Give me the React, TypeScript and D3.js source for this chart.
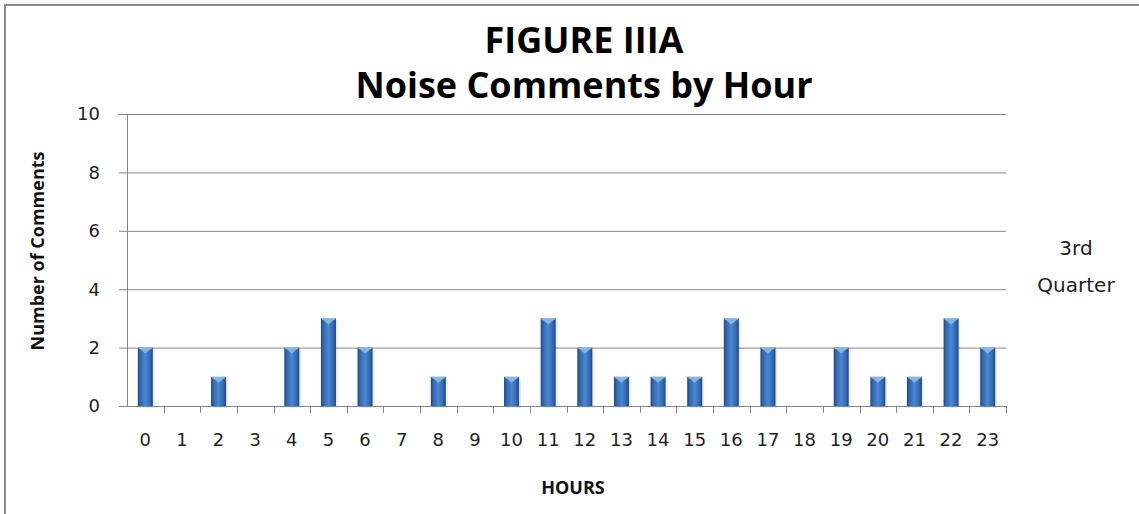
import { useEffect, useRef } from 'react';
import * as d3 from 'd3';

// hours 0..23 and comment counts
const hours = ['0', '1', '2', '3', '4', '5', '6', '7', '8', '9', '10', '11', '12', '13', '14', '15', '16', '17', '18', '19', '20', '21', '22', '23'];
const comments = [2, 0, 1, 0, 2, 3, 2, 0, 1, 0, 1, 3, 2, 1, 1, 1, 3, 2, 0, 2, 1, 1, 3, 2];
const yTicks = [0, 2, 4, 6, 8, 10];
const titleLines = ['FIGURE IIIA', 'Noise Comments by Hour'];
const legendLines = ['3rd', 'Quarter'];

const W = 1139;
const H = 514;

const App = () => {
    const chartRef = useRef<SVGSVGElement | null>(null);

    useEffect(() => {
        const svg = d3.select(chartRef.current);
        svg.selectAll('*').remove();

        const left = 127, right = 1006, top = 114, bottom = 406;
        const grey = '#868686';

        const xScale = d3.scaleBand<string>()
            .domain(hours)
            .range([left, right])
            .paddingInner(0.59)
            .paddingOuter(0.295);
        const band = d3.scaleBand<string>().domain(hours).range([left, right]);

        const yScale = d3.scaleLinear().domain([0, 10]).range([bottom, top]);

        const defs = svg.append('defs');
        const grad = defs.append('linearGradient').attr('id', 'barGrad')
            .attr('x1', '0').attr('x2', '1').attr('y1', '0').attr('y2', '0');
        [['0', '#1f4a86'], ['0.18', '#3468ae'], ['0.5', '#4a88d3'], ['0.82', '#3468ae'], ['1', '#1c4680']]
            .forEach(([o, c]) => grad.append('stop').attr('offset', o).attr('stop-color', c));

        // outer frame (top and left edge visible)
        svg.append('path')
            .attr('d', `M5,${H} L5,5 L${W},5`)
            .attr('fill', 'none')
            .attr('stroke', '#8c8c8c')
            .attr('stroke-width', 2);

        // gridlines + y ticks
        svg.append('g').selectAll('line')
            .data(yTicks)
            .join('line')
            .attr('x1', left - 8)
            .attr('x2', right)
            .attr('y1', d => yScale(d) + 0.5)
            .attr('y2', d => yScale(d) + 0.5)
            .attr('stroke', grey)
            .attr('stroke-width', 1);

        svg.append('g').selectAll('text')
            .data(yTicks)
            .join('text')
            .attr('x', 100)
            .attr('y', d => yScale(d))
            .attr('dy', '0.36em')
            .attr('text-anchor', 'end')
            .attr('font-family', 'DejaVu Sans')
            .attr('font-size', 18)
            .attr('fill', '#222')
            .text(d => d);

        // y axis line
        svg.append('line')
            .attr('x1', left + 0.5).attr('x2', left + 0.5)
            .attr('y1', top).attr('y2', bottom)
            .attr('stroke', grey);

        // x ticks at band edges
        const edges = hours.map(h => band(h) as number).concat([right]);
        svg.append('g').selectAll('line')
            .data(edges.slice(1))
            .join('line')
            .attr('x1', d => Math.round(d) + 0.5)
            .attr('x2', d => Math.round(d) + 0.5)
            .attr('y1', bottom)
            .attr('y2', bottom + 7)
            .attr('stroke', grey);

        svg.append('g').selectAll('text')
            .data(hours)
            .join('text')
            .attr('x', d => (band(d) as number) + band.bandwidth() / 2)
            .attr('y', 446)
            .attr('text-anchor', 'middle')
            .attr('font-family', 'DejaVu Sans')
            .attr('font-size', 18)
            .attr('fill', '#222')
            .text(d => d);

        // bars
        const bars = svg.append('g');
        const bw = xScale.bandwidth();
        hours.forEach((h, i) => {
            const v = comments[i];
            if (!v) return;
            const x = xScale(h) as number;
            const y = yScale(v);
            bars.append('rect')
                .attr('x', x + 2).attr('y', y + 2)
                .attr('width', bw).attr('height', bottom - y)
                .attr('fill', '#000').attr('opacity', 0.08);
            bars.append('rect')
                .attr('x', x).attr('y', y)
                .attr('width', bw).attr('height', bottom - y)
                .attr('fill', 'url(#barGrad)');
            bars.append('rect')
                .attr('x', x + 1).attr('y', y)
                .attr('width', bw - 2).attr('height', 1.5)
                .attr('fill', '#8ec2f2');
            bars.append('path')
                .attr('d', `M${x + 1.5},${y + 1} L${x + bw - 1.5},${y + 1} L${x + bw / 2},${y + 6} Z`)
                .attr('fill', '#7db5ec');
        });

        // x axis line over bars
        svg.append('line')
            .attr('x1', left).attr('x2', right)
            .attr('y1', bottom + 0.5).attr('y2', bottom + 0.5)
            .attr('stroke', grey);

        // title
        svg.append('g').selectAll('text')
            .data(titleLines)
            .join('text')
            .attr('x', 584)
            .attr('y', (d, i) => 53 + i * 45)
            .attr('text-anchor', 'middle')
            .attr('font-family', 'Open Sans')
            .attr('font-weight', 'bold')
            .attr('font-size', 36)
            .attr('fill', '#000')
            .text(d => d);

        // axis titles
        svg.append('text')
            .attr('transform', `translate(44, 251) rotate(-90)`)
            .attr('text-anchor', 'middle')
            .attr('font-family', 'Open Sans')
            .attr('font-weight', 'bold')
            .attr('font-size', 18)
            .attr('fill', '#111')
            .text('Number of Comments');

        svg.append('text')
            .attr('x', 573)
            .attr('y', 494)
            .attr('text-anchor', 'middle')
            .attr('font-family', 'Open Sans')
            .attr('font-weight', 'bold')
            .attr('font-size', 18)
            .attr('fill', '#111')
            .text('HOURS');

        // legend text
        svg.append('g').selectAll('text')
            .data(legendLines)
            .join('text')
            .attr('x', 1076)
            .attr('y', (d, i) => 255 + i * 37)
            .attr('text-anchor', 'middle')
            .attr('font-family', 'DejaVu Sans')
            .attr('font-size', 20)
            .attr('fill', '#222')
            .text(d => d);
    }, []);

    return (
        <svg ref={chartRef} width={W} height={H}
            style={{ position: 'absolute', left: 0, top: 0, background: '#fff' }}></svg>
    );
};

export default App;
